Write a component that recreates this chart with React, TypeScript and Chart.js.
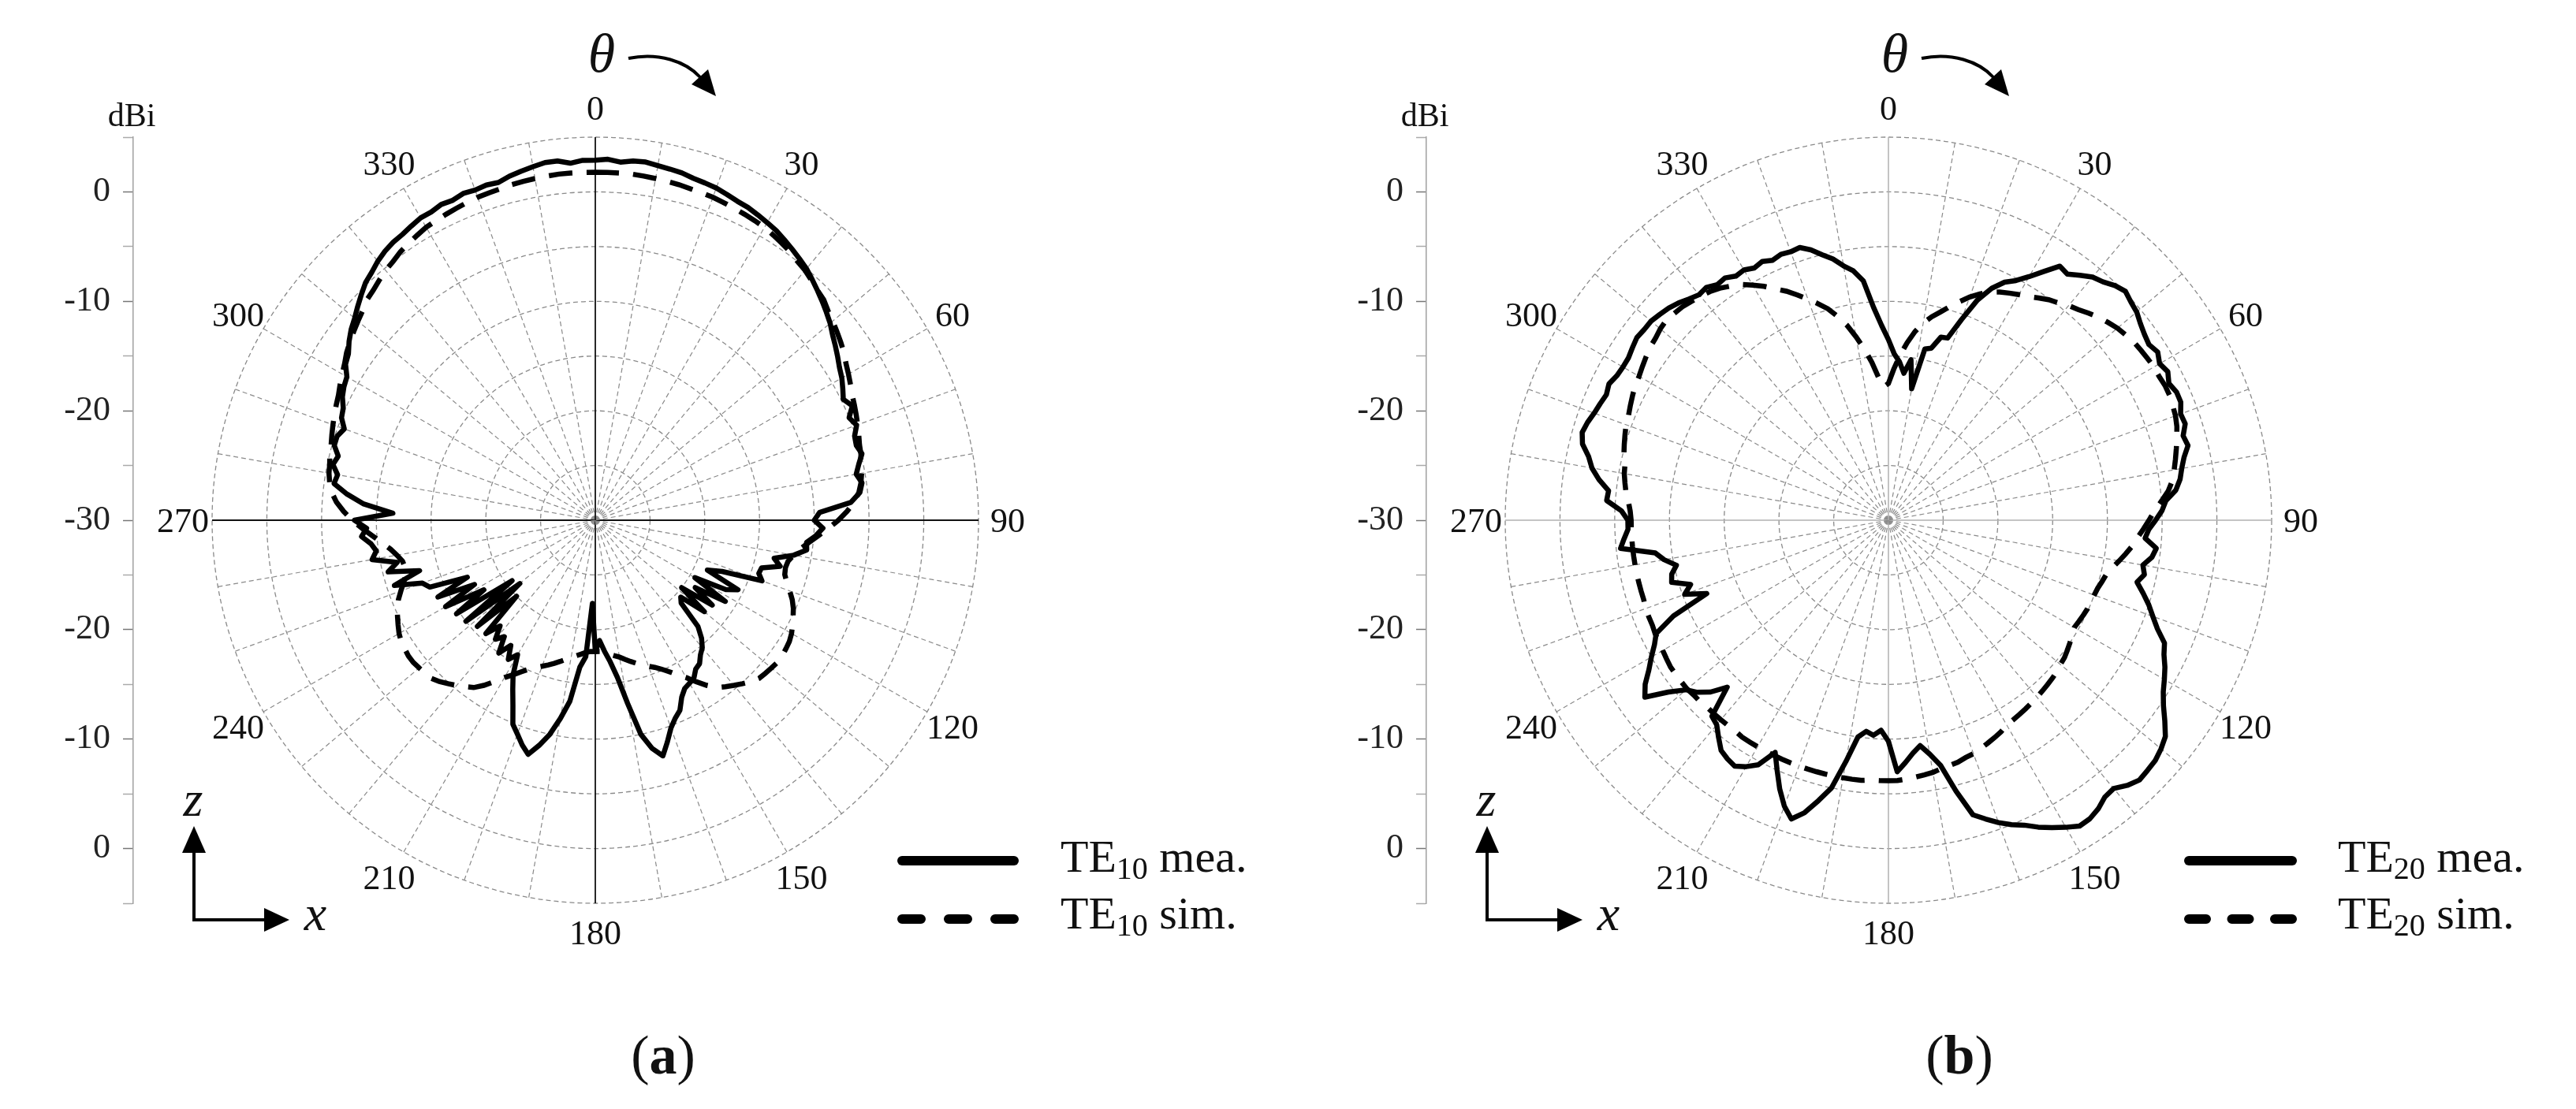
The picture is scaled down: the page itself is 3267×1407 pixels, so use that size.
import React, { useEffect, useRef } from "react";
import { Chart, registerables } from "chart.js";

Chart.register(...registerables);

const SERIF = "'Liberation Serif', 'Times New Roman', serif";

// Angular categories (deg), 2-degree sampling
const ANGLES: number[] = Array.from({ length: 180 }, (_, i) => i * 2);
// Angular tick labels shown around the circle
const ANGLE_TICKS = [0, 30, 60, 90, 120, 150, 180, 210, 240, 270, 300, 330];
// Left dBi axis: tick positions (offset from centre) and their labels
const DB_AXIS_MAJOR = [30, 20, 10, 0, -10, -20, -30];

// (a) TE10 measured, dBi
const A_MEA = [
  2.9, 3.0, 2.8, 3.0, 3.05, 2.9, 2.8, 2.7, 2.5, 2.4,
  2.3, 2.1, 1.9, 1.8, 1.6, 1.4, 1.2, 0.9, 0.6, 0.3,
  0.0, -0.4, -0.8, -1.2, -1.6, -2.0, -2.5, -2.9, -3.3, -3.7,
  -4.0, -4.4, -4.8, -4.3, -5.0, -4.6, -5.1, -5.2, -4.9, -5.4,
  -5.8, -5.4, -5.7, -6.6, -9.5, -10.0, -9.2, -9.8, -10.6, -10.5,
  -11.6, -13.3, -12.6, -14.2, -14.3, -13.8, -17.5, -18.8, -15.5, -16.5,
  -19.5, -16.0, -19.0, -16.8, -20.0, -17.0, -19.5, -19.1, -16.5, -15.5,
  -14.8, -14.4, -13.8, -13.6, -13.0, -12.8, -12.6, -12.0, -11.0, -10.5,
  -9.8, -8.7, -7.6, -8.5, -10.0, -13.0, -15.5, -17.0, -18.0, -19.0,
  -18.0, -22.4, -17.5, -16.5, -13.3, -11.6, -10.0, -8.8, -7.75, -8.4,
  -9.2, -9.9, -11.5, -12.8, -14.0, -15.8, -15.0, -16.2, -15.0, -16.5,
  -15.8, -17.0, -15.6, -20.0, -15.5, -21.0, -15.0, -20.6, -14.7, -18.0,
  -14.2, -17.5, -14.0, -17.2, -13.7, -13.2, -10.7, -13.3, -10.5, -11.5,
  -9.3, -9.8, -9.4, -8.6, -9.1, -8.0, -11.5, -8.8, -7.2, -5.9,
  -6.1, -5.5, -5.8, -5.2, -5.2, -5.6, -5.0, -4.8, -4.3, -4.0,
  -3.8, -3.1, -2.8, -2.2, -1.7, -1.3, -0.8, -0.3, 0.2, 0.5,
  0.9, 1.2, 1.4, 1.5, 1.7, 1.9, 1.9, 2.1, 2.0, 2.2,
  2.1, 2.2, 2.1, 2.4, 2.6, 2.8, 3.0, 3.0, 2.7, 2.9,
];

// (a) TE10 simulated, dBi
const A_SIM = [
  1.8, 1.8, 1.8, 1.8, 1.75, 1.7, 1.65, 1.6, 1.5, 1.45,
  1.4, 1.3, 1.2, 1.1, 1.0, 0.9, 0.7, 0.5, 0.3, 0.0,
  -0.2, -0.5, -0.8, -1.0, -1.4, -1.7, -2.0, -2.3, -2.6, -3.0,
  -3.3, -3.6, -3.9, -4.1, -4.3, -4.5, -4.7, -4.9, -5.0, -5.2,
  -5.3, -5.5, -5.8, -6.3, -7.0, -7.8, -8.7, -9.6, -10.4, -11.1,
  -11.6, -12.0, -12.1, -12.0, -11.6, -11.1, -10.6, -10.2, -9.9, -9.6,
  -9.3, -9.1, -9.0, -8.9, -8.9, -9.0, -9.1, -9.2, -9.5, -9.9,
  -10.3, -10.7, -11.1, -11.8, -12.6, -13.4, -14.0, -14.6, -15.1, -15.5,
  -15.8, -16.1, -16.4, -16.7, -17.0, -17.3, -17.5, -17.7, -17.9, -18.0,
  -18.0, -18.0, -17.9, -17.7, -17.5, -17.3, -17.0, -16.7, -16.4, -16.1,
  -15.8, -15.5, -15.1, -14.6, -14.0, -13.4, -12.6, -11.8, -11.1, -10.7,
  -10.3, -9.9, -9.5, -9.2, -9.1, -9.0, -8.9, -8.9, -9.0, -9.1,
  -9.3, -9.6, -9.9, -10.2, -10.6, -11.1, -11.6, -12.0, -12.1, -12.0,
  -11.6, -11.1, -10.4, -9.6, -8.7, -7.8, -7.0, -6.3, -5.8, -5.5,
  -5.3, -5.2, -5.0, -4.9, -4.7, -4.5, -4.3, -4.1, -3.9, -3.6,
  -3.3, -3.0, -2.6, -2.3, -2.0, -1.7, -1.4, -1.0, -0.8, -0.5,
  -0.2, 0.0, 0.3, 0.5, 0.7, 0.9, 1.0, 1.1, 1.2, 1.3,
  1.4, 1.45, 1.5, 1.6, 1.65, 1.7, 1.75, 1.8, 1.8, 1.8,
];

// (b) TE20 measured, dBi
const B_MEA = [
  -13.5, -14.8, -15.5, -16.5, -15.2, -17.8, -14.0, -13.8, -12.6, -12.5,
  -10.5, -8.3, -6.8, -5.8, -5.2, -4.3, -3.2, -2.0, -2.2, -1.6,
  -1.0, -0.7, -0.2, 0.1, -0.2, -0.4, -0.8, -1.1, -1.3, -1.0,
  -1.4, -1.1, -1.5, -1.2, -1.2, -1.6, -1.5, -2.0, -1.8, -2.4,
  -2.8, -3.1, -3.6, -4.6, -5.0, -5.6, -6.2, -6.5, -5.4, -5.7,
  -6.4, -6.1, -6.6, -5.8, -5.0, -4.3, -3.5, -2.4, -2.0, -1.4,
  -0.9, -0.4, 0.3, 1.2, 2.1, 2.5, 2.8, 2.9, 3.0, 2.6,
  2.0, 2.1, 2.6, 2.9, 2.95, 2.4, 1.8, 1.2, 0.5, 0.0,
  -0.6, -1.3, -2.0, -4.5, -7.1, -8.3, -9.2, -8.6, -7.8, -7.0,
  -9.8, -10.8, -10.3, -10.6, -10.0, -7.6, -5.0, -3.6, -2.2, -1.3,
  -2.2, -3.5, -5.0, -6.4, -4.7, -4.0, -3.5, -3.7, -4.0, -4.8,
  -5.6, -5.9, -8.8, -7.4, -6.5, -5.9, -4.5, -2.5, -3.2, -4.2,
  -5.0, -5.8, -6.4, -8.5, -12.1, -10.2, -11.0, -9.4, -9.6, -10.2,
  -9.2, -8.5, -5.4, -5.8, -6.2, -6.2, -5.6, -4.2, -4.3, -3.3,
  -2.5, -2.0, -1.2, -0.9, -1.1, -1.4, -1.6, -1.8, -1.6, -1.9,
  -2.0, -2.0, -1.8, -1.6, -1.7, -1.7, -1.9, -2.1, -2.4, -2.8,
  -3.1, -3.0, -3.4, -3.3, -3.7, -3.6, -3.9, -3.7, -4.0, -3.8,
  -3.9, -3.8, -4.3, -5.0, -5.6, -6.4, -7.0, -8.0, -10.5, -12.2,
];

// (b) TE20 simulated, dBi
const B_SIM = [
  -17.5, -16.2, -14.9, -13.7, -12.6, -11.7, -11.0, -10.4, -9.7, -9.0,
  -8.3, -7.7, -7.2, -6.8, -6.5, -6.2, -5.9, -5.5, -5.1, -4.8,
  -4.4, -4.1, -3.7, -3.3, -3.0, -2.7, -2.5, -2.3, -2.2, -2.1,
  -2.0, -2.0, -1.9, -1.9, -2.0, -2.1, -2.3, -2.6, -2.9, -3.2,
  -3.5, -3.8, -4.3, -5.0, -5.7, -6.2, -6.7, -7.2, -7.6, -8.1,
  -8.6, -9.1, -9.5, -9.7, -9.9, -10.0, -10.1, -10.1, -10.2, -10.3,
  -10.4, -10.2, -10.0, -9.8, -9.6, -9.5, -9.3, -9.2, -9.1, -9.0,
  -8.9, -8.8, -8.7, -8.6, -8.5, -8.4, -8.1, -7.9, -7.7, -7.5,
  -7.3, -7.2, -7.0, -6.9, -6.8, -6.6, -6.5, -6.4, -6.3, -6.2,
  -6.2, -6.2, -6.2, -6.1, -6.1, -6.1, -6.1, -6.1, -6.1, -6.1,
  -6.1, -6.1, -6.1, -6.1, -6.1, -6.1, -6.1, -6.1, -6.2, -6.2,
  -6.2, -6.2, -6.2, -6.1, -6.1, -6.0, -6.0, -6.0, -6.0, -6.1,
  -6.2, -6.3, -6.3, -6.4, -6.4, -6.4, -6.5, -6.5, -6.5, -6.5,
  -6.5, -6.5, -6.5, -6.5, -6.5, -6.5, -6.4, -6.2, -5.9, -5.7,
  -5.5, -5.4, -5.1, -4.9, -4.7, -4.5, -4.4, -4.2, -4.0, -3.8,
  -3.7, -3.5, -3.3, -3.1, -3.0, -2.8, -2.7, -2.8, -2.9, -3.1,
  -3.3, -3.5, -3.8, -4.2, -4.6, -5.2, -5.8, -6.5, -7.1, -7.8,
  -8.5, -9.2, -9.9, -10.8, -11.8, -13.0, -14.2, -15.5, -16.9, -17.8,
];

type Panel = {
  canvasW: number;
  padLeft: number;
  padRight: number;
  sub: string;
  axisColor: string;
  axisWidth: number;
  lgX0: number;
  lgX1: number;
  lgText: number;
  lgDash: number[];
  tag: string;
  tagDx: number;
  mea: number[];
  sim: number[];
};

const PANEL_A: Panel = {
  canvasW: 1633, padLeft: 49, padRight: 292, sub: "10",
  axisColor: "#111", axisWidth: 1.8,
  lgX0: 389, lgX1: 531, lgText: 590, lgDash: [24, 35],
  tag: "a", tagDx: 86, mea: A_MEA, sim: A_SIM,
};
const PANEL_B: Panel = {
  canvasW: 1634, padLeft: 56, padRight: 286, sub: "20",
  axisColor: "#b0b0b0", axisWidth: 1.5,
  lgX0: 381, lgX1: 512, lgText: 570, lgDash: [22, 32.5],
  tag: "b", tagDx: 90, mea: B_MEA, sim: B_SIM,
};

function decorPlugin(p: Panel) {
  return {
    id: "decor" + p.tag,
    afterDraw(chart: any) {
      const s = chart.scales.r;
      const ctx: CanvasRenderingContext2D = chart.ctx;
      const cx = s.xCenter;
      const cy = s.yCenter;
      const R = s.drawingArea;
      ctx.save();
      ctx.fillStyle = "#111";
      ctx.strokeStyle = "#000";

      // angular tick labels
      ctx.font = `44px ${SERIF}`;
      ctx.textAlign = "center";
      ctx.textBaseline = "alphabetic";
      ANGLE_TICKS.forEach((a) => {
        const idx = ANGLES.indexOf(a);
        const pt = s.getPointPosition(idx, R + 37);
        ctx.fillText(String(a), pt.x, pt.y + 15);
      });

      // dBi unit
      ctx.font = `42px ${SERIF}`;
      ctx.fillText("dBi", cx - 588, cy - 500);

      // theta and curved arrow
      ctx.font = `italic 70px ${SERIF}`;
      ctx.fillText("θ", cx + 8, cy - 569);
      ctx.lineWidth = 4;
      ctx.beginPath();
      ctx.moveTo(cx + 42, cy - 586);
      ctx.bezierCurveTo(cx + 80, cy - 594, cx + 115, cy - 582, cx + 133, cy - 562);
      ctx.stroke();
      ctx.beginPath();
      ctx.moveTo(cx + 153, cy - 538);
      ctx.lineTo(cx + 122, cy - 553);
      ctx.lineTo(cx + 143, cy - 572);
      ctx.closePath();
      ctx.fillStyle = "#000";
      ctx.fill();

      // z-x coordinate arrows
      ctx.lineWidth = 4;
      ctx.beginPath();
      ctx.moveTo(cx - 509, cy + 418);
      ctx.lineTo(cx - 509, cy + 507);
      ctx.lineTo(cx - 418, cy + 507);
      ctx.stroke();
      ctx.beginPath();
      ctx.moveTo(cx - 509, cy + 388);
      ctx.lineTo(cx - 524, cy + 422);
      ctx.lineTo(cx - 494, cy + 422);
      ctx.closePath();
      ctx.fill();
      ctx.beginPath();
      ctx.moveTo(cx - 388, cy + 507);
      ctx.lineTo(cx - 420, cy + 492);
      ctx.lineTo(cx - 420, cy + 522);
      ctx.closePath();
      ctx.fill();
      ctx.fillStyle = "#111";
      ctx.font = `italic 64px ${SERIF}`;
      ctx.textAlign = "center";
      ctx.fillText("z", cx - 510, cy + 375);
      ctx.fillText("x", cx - 355, cy + 520);

      // legend
      ctx.lineCap = "round";
      ctx.lineWidth = 12;
      ctx.setLineDash([]);
      ctx.beginPath();
      ctx.moveTo(cx + p.lgX0, cy + 432);
      ctx.lineTo(cx + p.lgX1, cy + 432);
      ctx.stroke();
      ctx.setLineDash(p.lgDash);
      ctx.beginPath();
      ctx.moveTo(cx + p.lgX0, cy + 506);
      ctx.lineTo(cx + p.lgX1, cy + 506);
      ctx.stroke();
      ctx.setLineDash([]);
      const legendText = (y: number, suffix: string) => {
        let x = cx + p.lgText;
        ctx.textAlign = "left";
        ctx.font = `58px ${SERIF}`;
        ctx.fillText("TE", x, y);
        x += ctx.measureText("TE").width;
        ctx.font = `40px ${SERIF}`;
        ctx.fillText(p.sub, x, y + 9);
        x += ctx.measureText(p.sub).width;
        ctx.font = `58px ${SERIF}`;
        ctx.fillText(" " + suffix, x, y);
      };
      legendText(cy + 446, "mea.");
      legendText(cy + 518, "sim.");

      // panel tag (a)/(b)
      ctx.font = `70px ${SERIF}`;
      const wp = ctx.measureText("(").width;
      const wq = ctx.measureText(")").width;
      ctx.font = `bold 70px ${SERIF}`;
      const wt = ctx.measureText(p.tag).width;
      let tx = cx + p.tagDx - (wp + wt + wq) / 2;
      const ty = cy + 702;
      ctx.textAlign = "left";
      ctx.font = `70px ${SERIF}`;
      ctx.fillText("(", tx, ty);
      tx += wp;
      ctx.font = `bold 70px ${SERIF}`;
      ctx.fillText(p.tag, tx, ty);
      tx += wt;
      ctx.font = `70px ${SERIF}`;
      ctx.fillText(")", tx, ty);

      ctx.restore();
    },
  };
}

function buildConfig(p: Panel): any {
  const isAxis = (i: number) => i % 45 === 0;
  const isSpoke = (i: number) => i % 5 === 0;
  return {
    type: "radar",
    data: {
      labels: ANGLES.map(String),
      datasets: [
        {
          label: `TE${p.sub} mea.`,
          data: p.mea,
          borderColor: "#000",
          borderWidth: 6.5,
          borderJoinStyle: "round",
          pointRadius: 0,
          fill: false,
          tension: 0,
        },
        {
          label: `TE${p.sub} sim.`,
          data: p.sim,
          borderColor: "#000",
          borderWidth: 6.5,
          borderDash: [30, 18],
          pointRadius: 0,
          fill: false,
          tension: 0,
        },
      ],
    },
    options: {
      animation: false,
      responsive: false,
      maintainAspectRatio: false,
      layout: { padding: { left: p.padLeft, right: p.padRight, top: 174, bottom: 261 } },
      plugins: { legend: { display: false }, tooltip: { enabled: false } },
      elements: { point: { radius: 0 } },
      scales: {
        r: {
          min: -30,
          max: 5,
          beginAtZero: false,
          ticks: { display: false, stepSize: 5 },
          pointLabels: { display: false },
          grid: { circular: true, color: "#8a8a8a", lineWidth: 1.3 },
          border: { dash: [6, 4] },
          angleLines: {
            display: true,
            color: (c: any) => (isAxis(c.index) ? p.axisColor : isSpoke(c.index) ? "#8a8a8a" : "rgba(0,0,0,0)"),
            lineWidth: (c: any) => (isAxis(c.index) ? p.axisWidth : isSpoke(c.index) ? 1.2 : 0),
            borderDash: (c: any) => (isAxis(c.index) ? [] : [6, 4]),
          },
        },
        y: {
          type: "linear",
          position: "left",
          min: -35,
          max: 35,
          afterFit: (sc: any) => {
            sc.width = 120;
          },
          ticks: {
            stepSize: 5,
            autoSkip: false,
            maxRotation: 0,
            padding: 16,
            color: "#222",
            font: { family: SERIF, size: 44 },
            callback: (v: any) => {
              const n = Number(v);
              return DB_AXIS_MAJOR.includes(n) ? String(Math.abs(n) - 30) : "";
            },
          },
          grid: {
            drawOnChartArea: false,
            drawTicks: true,
            tickLength: 13,
            tickWidth: 1.5,
            tickColor: (c: any) => (c.tick && DB_AXIS_MAJOR.includes(c.tick.value) ? "#777" : "#aaa"),
          },
          border: { display: true, color: "#a0a0a0", width: 1.5 },
        },
      },
    },
    plugins: [decorPlugin(p)],
  };
}

export default function App() {
  const refA = useRef<HTMLCanvasElement>(null);
  const refB = useRef<HTMLCanvasElement>(null);
  useEffect(() => {
    document.body.style.margin = "0";
    const a = new Chart(refA.current as HTMLCanvasElement, buildConfig(PANEL_A));
    const b = new Chart(refB.current as HTMLCanvasElement, buildConfig(PANEL_B));
    return () => {
      a.destroy();
      b.destroy();
    };
  }, []);
  return (
    <div style={{ position: "relative", width: 3267, height: 1407, background: "#fff", overflow: "hidden" }}>
      <canvas ref={refA} width={PANEL_A.canvasW} height={1407} style={{ position: "absolute", left: 0, top: 0 }} />
      <canvas ref={refB} width={PANEL_B.canvasW} height={1407} style={{ position: "absolute", left: PANEL_A.canvasW, top: 0 }} />
    </div>
  );
}
